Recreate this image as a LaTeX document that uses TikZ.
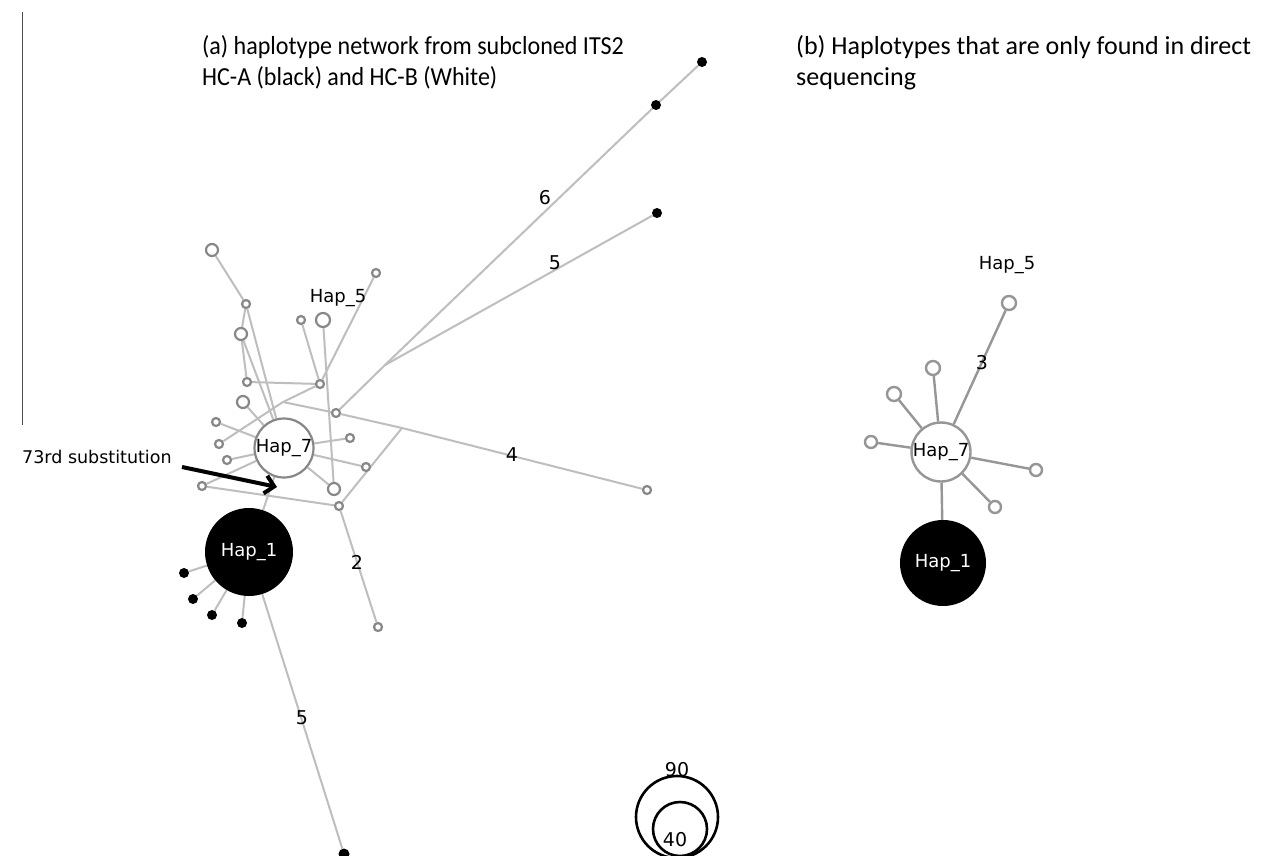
\documentclass[tikz,border=0pt]{standalone}
\usepackage{fontspec}
\setmainfont{Carlito}
\newfontfamily\dv{DejaVu Sans}
\usetikzlibrary{arrows.meta,backgrounds}
\definecolor{linegray}{RGB}{190,190,190}
\definecolor{ringgray}{RGB}{135,135,135}
\definecolor{rlinegray}{RGB}{150,150,150}
\begin{document}
\begin{tikzpicture}[x=1pt,y=-1pt,
  hn/.style={circle,draw=ringgray,line width=2.2pt,fill=white,inner sep=0pt,minimum size=#1},
  rn/.style={circle,draw=rlinegray,line width=2.4pt,fill=white,inner sep=0pt,minimum size=#1},
  bn/.style={circle,fill=black,inner sep=0pt,minimum size=#1},
  ln/.style={draw=linegray,line width=2pt},
  rl/.style={draw=rlinegray,line width=2.4pt},
  elab/.style={font=\dv\fontsize{19}{19}\selectfont,inner sep=0pt},
  hlab/.style={font=\dv\fontsize{18}{18}\selectfont,inner sep=0pt},
  title/.style={font=\fontsize{26}{32}\selectfont,anchor=base west,inner sep=0pt},
  legc/.style={circle,draw=black,line width=2.6pt,inner sep=0pt,minimum size=#1}]
\useasboundingbox (0,0) rectangle (1271,856);
\begin{scope}[on background layer]
\fill[white] (0,0) rectangle (1271,856);
\end{scope}

% titles
\node[title,xscale=0.925,transform shape] (ta1) at (202,55) {(a) haplotype network from subcloned ITS2};
\node[title,xscale=0.925,transform shape] (ta2) at (202,86) {HC-A (black) and HC-B (White)};
\node[title] (tb1) at (796,55) {(b) Haplotypes that are only found in direct};
\node[title] (tb2) at (796,86) {sequencing};
\coordinate (vt) at (22,12);
\coordinate (vb) at (22,425);
\draw[draw=black!70,line width=1pt] (vt) -- (vb);

% ---------- left network nodes ----------
\node[hn=12pt] (A) at (212,250) {};
\node[hn=8pt] (B) at (246,304) {};
\node[hn=12pt] (C) at (241,334) {};
\node[hn=8pt] (D) at (247,382) {};
\node[hn=12pt] (E) at (243,402) {};
\node[hn=8pt] (F) at (301,320) {};
\node[hn=14pt] (G) at (323,320) {};
\node[hn=8pt] (H) at (376,273) {};
\node[hn=8pt] (I) at (320,384) {};
\node[hn=8pt] (J) at (336,413) {};
\node[hn=8pt] (K) at (216,422) {};
\node[hn=8pt] (L) at (350,438) {};
\node[hn=8pt] (M) at (219,444) {};
\node[hn=8pt] (N) at (227,460) {};
\node[hn=8pt] (O) at (366,467) {};
\node[hn=8pt] (P) at (202,486) {};
\node[hn=12pt] (Q) at (334,489) {};
\node[hn=8pt] (R) at (339,506) {};
\node[hn=8pt] (S) at (378,627) {};
\node[hn=8pt] (T) at (647,490) {};
\node[hn=58pt,hlab] (H7) at (284,448) {Hap\_7};
\node[bn=88pt,hlab,text=white] (H1) at (249,552) {Hap\_1};
\node[bn=10pt] (X1) at (702,62) {};
\node[bn=10pt] (X2) at (656,105) {};
\node[bn=10pt] (X3) at (657,213) {};
\node[bn=10pt] (Y1) at (184,573) {};
\node[bn=10pt] (Y2) at (193,599) {};
\node[bn=10pt] (Y3) at (212,615) {};
\node[bn=10pt] (Y4) at (242,623) {};
\node[bn=11pt] (Z) at (344,854) {};
\coordinate (m1) at (283,402);
\coordinate (m2) at (402,428);
\coordinate (m3) at (385,365);
\node[hlab] (h5lab) at (338,298) {Hap\_5};

% edge labels
\node[elab] (l6) at (545,198) {6};
\node[elab] (l5a) at (555,263) {5};
\node[elab] (l4) at (512,455) {4};
\node[elab] (l2) at (357,562) {2};
\node[elab] (l5b) at (302,718) {5};

\begin{scope}[on background layer]
\draw[ln] (A) -- (B);
\draw[ln] (B) -- (C);
\draw[ln] (B) -- (H7);
\draw[ln] (C) -- (D);
\draw[ln] (C) -- (H7);
\draw[ln] (D) -- (I);
\draw[ln] (F) -- (I);
\draw[ln] (H) -- (I);
\draw[ln] (G) -- (Q);
\draw[ln] (I) -- (m1);
\draw[ln] (m1) -- (J);
\draw[ln] (M) -- (m1);
\draw[ln] (J) -- (m2) -- (T);
\draw[ln] (J) -- (m3) -- (X2);
\draw[ln] (X2) -- (X1);
\draw[ln] (X3) -- (m3);
\draw[ln] (E) -- (H7);
\draw[ln] (K) -- (H7);
\draw[ln] (N) -- (H7);
\draw[ln] (P) -- (H7);
\draw[ln] (L) -- (H7);
\draw[ln] (O) -- (H7);
\draw[ln] (Q) -- (H7);
\draw[ln] (P) -- (R);
\draw[ln] (R) -- (m2);
\draw[ln] (R) -- (S);
\draw[ln] (H7) -- (H1);
\draw[ln] (H1) -- (Y1);
\draw[ln] (H1) -- (Y2);
\draw[ln] (H1) -- (Y3);
\draw[ln] (H1) -- (Y4);
\draw[ln] (H1) -- (Z);
\end{scope}

% arrow
\node[font=\dv\fontsize{17.5}{17.5}\selectfont,anchor=west,inner sep=0pt] (sub) at (22,457) {73rd substitution};
\coordinate (as) at (182,467);
\coordinate (ae) at (277,487);
\draw[line width=4pt,-{Straight Barb[length=9pt,width=18pt,line width=4pt]}] (as) -- (ae);

% ---------- right network ----------
\node[rn=56pt,hlab] (RH7) at (941,452) {Hap\_7};
\node[bn=86pt,hlab,text=white] (RH1) at (943,563) {Hap\_1};
\node[rn=14pt] (RH5) at (1009,303) {};
\node[rn=14pt] (Ra) at (933,368) {};
\node[rn=14pt] (Rb) at (894,394) {};
\node[rn=12pt] (Rc) at (871,442) {};
\node[rn=12pt] (Rd) at (1036,470) {};
\node[rn=12pt] (Re) at (995,507) {};
\node[hlab] (rh5lab) at (1007,265) {Hap\_5};
\node[elab] (l3) at (982,363) {3};
\begin{scope}[on background layer]
\draw[rl] (RH7) -- (RH5);
\draw[rl] (RH7) -- (Ra);
\draw[rl] (RH7) -- (Rb);
\draw[rl] (RH7) -- (Rc);
\draw[rl] (RH7) -- (Rd);
\draw[rl] (RH7) -- (Re);
\draw[rl] (RH7) -- (RH1);
\end{scope}

% legend
\node[legc=82pt] (lg90) at (677,817) {};
\node[legc=54pt] (lg40) at (680,829) {};
\node[elab] (t90) at (677,770) {90};
\node[elab] (t40) at (675,840) {40};
\end{tikzpicture}
\end{document}
